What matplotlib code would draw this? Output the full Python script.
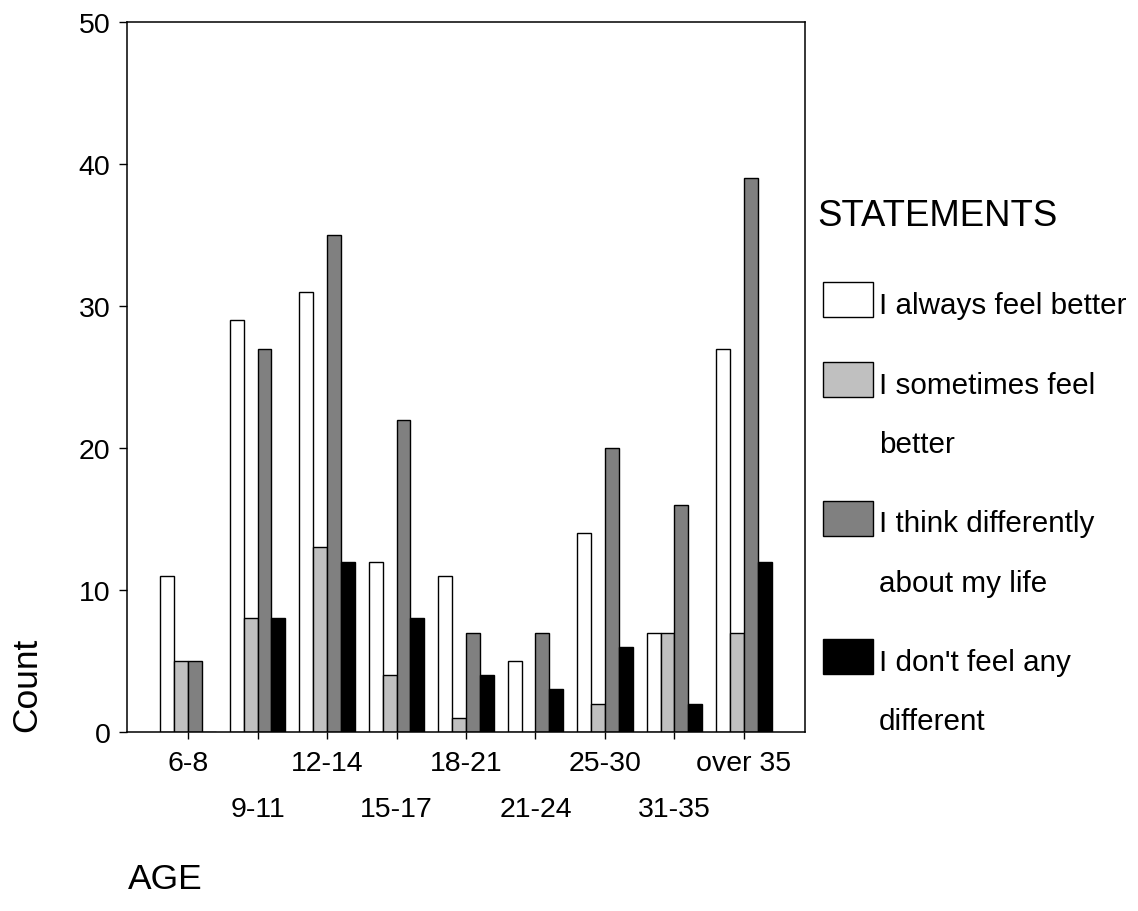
import matplotlib
matplotlib.use("Agg")
import matplotlib.pyplot as plt
import matplotlib.transforms as mtransforms
from matplotlib.patches import Rectangle
import numpy as np

plt.rcParams["font.family"] = ["Liberation Sans", "DejaVu Sans"]

ages = ["6-8", "9-11", "12-14", "15-17", "18-21", "21-24", "25-30", "31-35", "over 35"]
statements = [
    "I always feel better",
    "I sometimes feel\nbetter",
    "I think differently\nabout my life",
    "I don't feel any\ndifferent",
]
always_better = [11, 29, 31, 12, 11, 5, 14, 7, 27]
sometimes_better = [5, 8, 13, 4, 1, 0, 2, 7, 7]
think_differently = [5, 27, 35, 22, 7, 7, 20, 16, 39]
no_different = [0, 8, 12, 8, 4, 3, 6, 2, 12]
series = [always_better, sometimes_better, think_differently, no_different]
colors = ["#ffffff", "#c0c0c0", "#808080", "#000000"]

W, H = 1138, 912
fig = plt.figure(figsize=(W / 100, H / 100), dpi=100)


def px(x, y):
    return x / W, 1 - y / H


ax = fig.add_axes([127 / W, 1 - 733 / H, (805 - 127) / W, (733 - 23) / H])

x = np.arange(len(ages))
width = 0.2
for j, (vals, col) in enumerate(zip(series, colors)):
    ax.bar(x + (j - 1.5) * width, vals, width, color=col, edgecolor="black",
           linewidth=1.0, zorder=2)

ax.set_xlim(-0.878, len(ages) - 1 + 0.878)
ax.set_ylim(0, 50)
ax.set_yticks([0, 10, 20, 30, 40, 50])
ax.set_xticks(x)
ax.set_xticklabels(ages)
ax.tick_params(axis="both", labelsize=20.5, width=1, color="black")
ax.tick_params(axis="x", length=5, pad=8)
ax.tick_params(axis="y", length=6, pad=6)
for s in ax.spines.values():
    s.set_linewidth(1.1)

# stagger every other age label onto a second row
shift = mtransforms.ScaledTranslation(0, -0.46, fig.dpi_scale_trans)
for i, lab in enumerate(ax.get_xticklabels()):
    if i % 2 == 1:
        lab.set_transform(lab.get_transform() + shift)

fig.text(*px(27, 685), "Count", rotation=90, ha="center", va="center", fontsize=25.5)
fig.text(*px(128, 880), "AGE", ha="left", va="center", fontsize=25.5)

# legend
fig.text(*px(817, 226), "STATEMENTS", ha="left", va="baseline", fontsize=26.3)
extra = 0
for i, (lab, col) in enumerate(zip(statements, colors)):
    top = 283 + 80 * i + 58.5 * extra
    fig.add_artist(Rectangle(px(823, top + 35), 50 / W, 35 / H, facecolor=col,
                             edgecolor="black", linewidth=1.0,
                             transform=fig.transFigure))
    for k, line in enumerate(lab.split("\n")):
        fig.text(*px(879, top + 31 + 59 * k), line, ha="left", va="baseline",
                 fontsize=21.3)
    extra += lab.count("\n")

fig.savefig("out.png", dpi=100)
